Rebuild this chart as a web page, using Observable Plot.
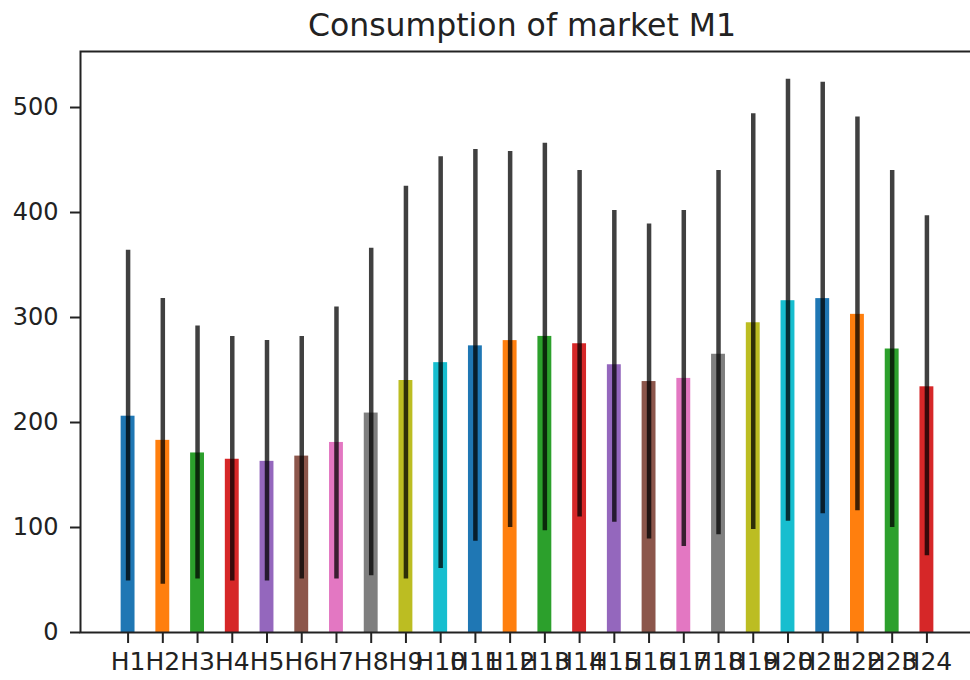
<!DOCTYPE html>
<html>
<head>
<meta charset="utf-8">
<script src="https://cdn.jsdelivr.net/npm/d3@7"></script>
<script src="https://cdn.jsdelivr.net/npm/@observablehq/plot@0.6"></script>
<style>
  html, body { margin: 0; padding: 0; background: white; }
  #outer { width: 970px; height: 680px; overflow: hidden; background: white; }
  #inner { width: 974px; }
  #title { height: 44px; box-sizing: border-box; padding-top: 10px; padding-left: 70px; text-align: center;
           font-family: "DejaVu Sans", sans-serif; font-size: 31.5px; line-height: 31.5px; color: #222; white-space: nowrap; }
</style>
</head>
<body>
<div id="outer"><div id="inner"><div id="title">Consumption of market M1</div><div id="chart"></div></div></div>
<script>
const categories = ["H1","H2","H3","H4","H5","H6","H7","H8","H9","H10","H11","H12","H13","H14","H15","H16","H17","H18","H19","H20","H21","H22","H23","H24"];
const values = [206, 183, 171, 165, 163, 168, 181, 209, 240, 257, 273, 278, 282, 275, 255, 239, 242, 265, 295, 316, 318, 303, 270, 234];
const errLow = [49, 46, 51, 49, 49, 51, 51, 54, 51, 61, 87, 100, 97, 110, 105, 89, 82, 93, 98, 106, 113, 116, 100, 73];
const errHigh = [364, 318, 292, 282, 278, 282, 310, 366, 425, 453, 460, 458, 466, 440, 402, 389, 402, 440, 494, 527, 524, 491, 440, 397];
const yTicks = [0, 100, 200, 300, 400, 500];
const palette = ["#1f77b4","#ff7f0e","#2ca02c","#d62728","#9467bd","#8c564b","#e377c2","#7f7f7f","#bcbd22","#17becf"];

const rows = categories.map((c, i) => ({name: c, value: values[i], lo: errLow[i], hi: errHigh[i], color: palette[i % palette.length]}));
const yMax = d3.max(errHigh) * 1.05;

const chart = Plot.plot({
  width: 974,
  height: 636,
  marginTop: 7,
  marginBottom: 48,
  marginLeft: 80,
  marginRight: 0,
  style: {fontFamily: "DejaVu Sans, sans-serif", maxWidth: "none", background: "white", color: "#222"},
  x: {domain: categories, paddingInner: 0.6, paddingOuter: 1.17, round: false, label: null},
  y: {domain: [0, yMax], label: null},
  marks: [
    Plot.barY(rows, {x: "name", y: "value", fill: d => d.color}),
    Plot.ruleX(rows, {x: "name", y1: "lo", y2: "hi", stroke: "black", strokeOpacity: 0.75, strokeWidth: 4.5}),
    Plot.axisY({ticks: yTicks, tickSize: 10, tickPadding: 12, fontSize: 24, strokeWidth: 2, stroke: "#222", fill: "#222", label: null}),
    Plot.axisX({tickSize: 11, tickPadding: 9, fontSize: 25, strokeWidth: 2, stroke: "#222", fill: "#222", label: null}),
    Plot.frame({stroke: "#222", strokeWidth: 2})
  ]
});
document.getElementById("chart").appendChild(chart);
</script>
</body>
</html>
